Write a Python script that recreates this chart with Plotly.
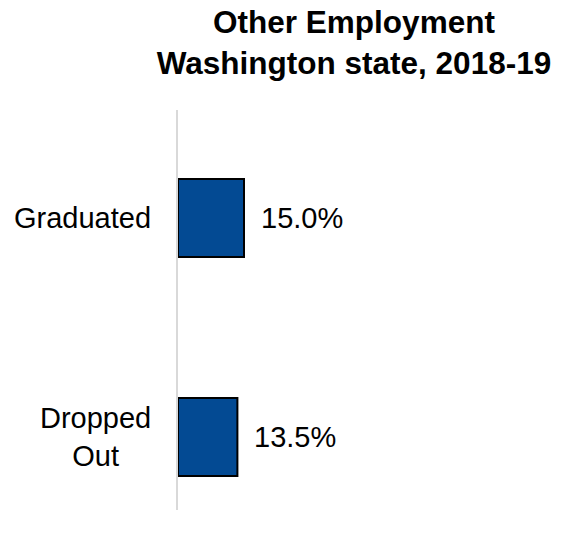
import plotly.graph_objects as go

# Outcome groups and the share of students in other employment
categories = ["Graduated", "Dropped Out"]
category_labels = ["Graduated", "Dropped<br>Out"]
shares = [15.0, 13.5]

FONT = "Liberation Sans, Arial, sans-serif"
BAR_BLUE = "#034a93"

fig = go.Figure(
    go.Bar(
        x=shares,
        y=categories,
        orientation="h",
        width=0.356,
        marker=dict(color=BAR_BLUE, line=dict(color="#000000", width=2)),
        hoverinfo="skip",
    )
)

# Value labels to the right of each bar
for cat, val in zip(categories, shares):
    fig.add_annotation(
        x=val, y=cat, xref="x", yref="y",
        text=f"{val:.1f}%", showarrow=False,
        xanchor="left", yanchor="middle", xshift=15,
        font=dict(family=FONT, size=29, color="#000000"),
    )

# Category labels, centred line by line
for cat, lab in zip(categories, category_labels):
    fig.add_annotation(
        x=0, y=cat, xref="paper", yref="y",
        text=lab, showarrow=False, align="center",
        xanchor="right", yanchor="middle", xshift=-25,
        font=dict(family=FONT, size=29, color="#000000"),
    )

fig.update_layout(
    width=565, height=547,
    margin=dict(l=178, r=35, t=110, b=37),
    paper_bgcolor="white", plot_bgcolor="white",
    showlegend=False,
    title=dict(
        text="<b>Other Employment<br>Washington state, 2018-19</b>",
        x=0.5, xref="paper", xanchor="center",
        y=0.94, yref="container", yanchor="top",
        font=dict(family=FONT, size=31.5, color="#000000"),
    ),
    xaxis=dict(range=[0, 80], visible=False, fixedrange=True),
    yaxis=dict(
        type="category",
        categoryorder="array", categoryarray=categories,
        range=[1.333, -0.493],
        showticklabels=False, showgrid=False, zeroline=False,
        showline=True, linecolor="#d9d9d9", linewidth=2,
        ticks="", fixedrange=True,
    ),
)

fig.write_html("out.html")
